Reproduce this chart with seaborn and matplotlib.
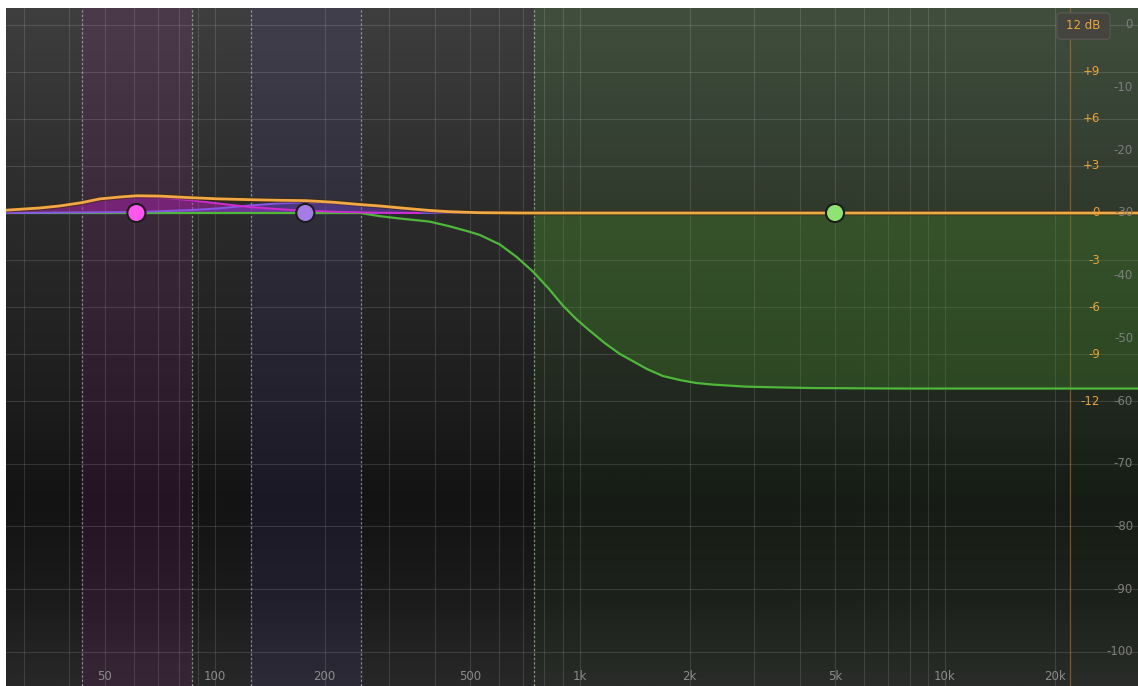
import numpy as np
import pandas as pd
import seaborn as sns
import matplotlib.pyplot as plt
from matplotlib.patches import FancyBboxPatch, Rectangle
from matplotlib.transforms import blended_transform_factory

sns.set_theme(style="dark")
plt.rcParams["font.family"] = ["DejaVu Sans"]


# ----------------------------
# Data
# ----------------------------
freq_ticks = [50, 100, 200, 500, 1000, 2000, 5000, 10000, 20000]
freq_tick_labels = ["50", "100", "200", "500", "1k", "2k", "5k", "10k", "20k"]

eq_ticks = [9, 6, 3, 0, -3, -6, -9, -12]
eq_tick_labels = ["+9", "+6", "+3", "0", "-3", "-6", "-9", "-12"]

analyzer_ticks = [0, -10, -20, -30, -40, -50, -60, -70, -80, -90, -100]

# EQ nodes (all sit on the 0 dB line in the picture)
node_freq = [61, 177, 5000]
node_gain = [0, 0, 0]
node_colors = ["#ff57ee", "#a47ce6", "#8fe274"]

# band regions (dashed edges)
band_lo = [43.2, 126, 748]
band_hi = [86.5, 251, 33800]

# band 1 (pink bell)
pink_freq = [26.8, 33.2, 43.2, 48.4, 54.9, 61.1, 70.7, 85.4, 103, 124.7, 160, 210, 283, 365]
pink_gain = [0.15, 0.3, 0.65, 0.88, 1.0, 1.05, 1.0, 0.82, 0.6, 0.38, 0.2, 0.08, 0.02, 0.0]

# band 2 (purple bell)
purple_freq = [26.8, 61.1, 85.4, 103, 124.7, 151, 177, 210, 250, 321, 388, 532, 685]
purple_gain = [0.0, 0.06, 0.18, 0.3, 0.48, 0.62, 0.67, 0.62, 0.5, 0.3, 0.15, 0.03, 0.0]

# band 3 (green shelf)
green_freq = [26.8, 250, 283, 321, 388, 440, 499, 532, 603, 671, 745, 820, 898, 981,
              1063, 1170, 1288, 1397, 1525, 1688, 1880, 2088, 2318, 2856, 3532, 4362,
              7540, 33800]
green_gain = [0.0, 0.0, -0.2, -0.35, -0.55, -0.85, -1.2, -1.4, -2.0, -2.8, -3.75, -4.8,
              -5.9, -6.8, -7.5, -8.3, -9.0, -9.45, -9.95, -10.4, -10.66, -10.85, -10.95,
              -11.08, -11.13, -11.17, -11.2, -11.2]

# summed response (orange)
total_freq = [26.8, 33.2, 37.6, 43.2, 48.4, 54.9, 61.1, 70.7, 85.4, 103, 124.7, 150, 177,
              210, 250, 283, 321, 388, 440, 532, 700, 33800]
total_gain = [0.18, 0.32, 0.45, 0.66, 0.9, 1.02, 1.1, 1.08, 0.98, 0.9, 0.85, 0.81, 0.79,
              0.69, 0.54, 0.45, 0.33, 0.16, 0.08, 0.02, 0.0, 0.0]

nyquist = 22050


# ----------------------------
# Helpers
# ----------------------------
def analyzer_to_eq(a):
    # analyzer scale: 0 dB sits at +12, -30 at 0 (2.5 analyzer dB per EQ dB)
    return 12 + np.asarray(a) / 2.5


def curve_df(freq, gain):
    return pd.DataFrame({"freq": freq, "gain": gain})


X_MIN, X_MAX = 26.8, 33800
Y_MIN, Y_MAX = -30.18, 13.08

fig = plt.figure(figsize=(11.38, 6.86), dpi=100, facecolor="white")
ax = fig.add_axes([6 / 1138, 0, 1132 / 1138, 678 / 686])
ax.set_xscale("log")

# background gradient (vertical: light top, darkest around -18 dB, lighter bottom)
stops = np.array([0.0, 0.127, 0.274, 0.42, 0.70, 1.0])
shade = np.array([40, 27, 19, 29, 43, 62]) / 255
yy = np.linspace(1, 0, 300)
g = np.interp(yy, stops, shade)[:, None]
bg = np.dstack([np.repeat(g, 2, axis=1)] * 3)
ax.imshow(bg, extent=[0, 1, 0, 1], transform=ax.transAxes, aspect="auto",
          interpolation="bilinear", zorder=0)

# band tints
band_tints = [(0.80, 0.10, 0.80, 0.09), (0.42, 0.32, 0.90, 0.085)]
for lo, hi, tint in zip(band_lo[:2], band_hi[:2], band_tints):
    ax.axvspan(lo, hi, color=tint[:3], alpha=tint[3], lw=0, zorder=1)

green_tint = np.zeros((200, 2, 4))
green_tint[..., 0] = 0.35
green_tint[..., 1] = 0.80
green_tint[..., 2] = 0.25
green_tint[..., 3] = np.linspace(0.12, 0.03, 200)[:, None]
ax.imshow(green_tint, extent=[band_lo[2], band_hi[2], Y_MIN, Y_MAX], aspect="auto",
          interpolation="bilinear", zorder=1)

# grid
grid_freqs = [m * 10 ** e for e in (1, 2, 3) for m in range(1, 10) if m * 10 ** e >= 30] + [10000, 20000]
for f in grid_freqs:
    ax.axvline(f, color="white", alpha=0.12, lw=0.8, zorder=2)
grid_levels = [12, 9, 6, 3, -3, -6, -9, -12] + list(analyzer_to_eq([-70, -80, -90, -100]))
for lvl in grid_levels:
    ax.axhline(lvl, color="white", alpha=0.13, lw=0.8, zorder=2)

# band edges
edge_colors = ["#e6c8e6", "#e6c8e6", "#d0d0e6", "#d0d0e6", "#c8e6c0"]
edges = [band_lo[0], band_hi[0], band_lo[1], band_hi[1], band_lo[2]]
for f, c in zip(edges, edge_colors):
    ax.axvline(f, color=c, alpha=0.55, lw=0.9, ls=(0, (2, 1.5)), zorder=3)
ax.axvline(nyquist, color="#b87830", alpha=0.6, lw=0.9, zorder=3)

# green shelf fill (only inside its band region)
clip = Rectangle((band_lo[2], Y_MIN), band_hi[2] - band_lo[2], Y_MAX - Y_MIN,
                 transform=ax.transData, visible=False)
ax.add_patch(clip)
fill = ax.fill_between(green_freq, green_gain, 0, color="#44882a", alpha=0.32, lw=0, zorder=3)
fill.set_clip_path(clip)

# bell fills
ax.fill_between(pink_freq, pink_gain, 0, color="#c020c0", alpha=0.45, lw=0, zorder=4)
ax.fill_between(purple_freq, purple_gain, 0, color="#7040d0", alpha=0.45, lw=0, zorder=4)

# curves
ax.plot([X_MIN, purple_freq[-1]], [0, 0], color="#7a55e6", lw=1.3, zorder=5)
sns.lineplot(data=curve_df(green_freq, green_gain), x="freq", y="gain", ax=ax,
             color="#4fb83a", lw=1.6, sort=False, estimator=None, zorder=5)
sns.lineplot(data=curve_df(purple_freq, purple_gain), x="freq", y="gain", ax=ax,
             color="#8a55e6", lw=1.4, sort=False, estimator=None, zorder=5)
sns.lineplot(data=curve_df(pink_freq, pink_gain), x="freq", y="gain", ax=ax,
             color="#d02ad0", lw=1.4, sort=False, estimator=None, zorder=5)
sns.lineplot(data=curve_df(total_freq, total_gain), x="freq", y="gain", ax=ax,
             color="#3a2a10", lw=3.6, alpha=0.6, sort=False, estimator=None, zorder=6)
sns.lineplot(data=curve_df(total_freq, total_gain), x="freq", y="gain", ax=ax,
             color="#f2a844", lw=2.0, sort=False, estimator=None, zorder=7)

# nodes
nodes = pd.DataFrame({"freq": node_freq, "gain": node_gain, "band": ["1", "2", "3"]})
sns.scatterplot(data=nodes, x="freq", y="gain", hue="band", palette=node_colors,
                s=170, edgecolor="#1c1c1c", linewidth=1.5, legend=False, ax=ax, zorder=8)

# scale labels
right = blended_transform_factory(ax.transAxes, ax.transData)
for v, lab in zip(eq_ticks, eq_tick_labels):
    ax.text(0.9664, v, lab, transform=right, ha="right", va="center",
            color="#e8a23c", fontsize=8.5, zorder=9)
for a in analyzer_ticks:
    ax.text(0.9956, analyzer_to_eq(a), str(a), transform=right, ha="right", va="center",
            color="#7e7e7e", fontsize=8.5, zorder=9)

bottom = blended_transform_factory(ax.transData, ax.transAxes)
for f, lab in zip(freq_ticks, freq_tick_labels):
    ax.text(f, 0.0147, lab, transform=bottom, ha="center", va="center",
            color="#8a8a8a", fontsize=8.5, zorder=9)

box = FancyBboxPatch((0.9284, 0.954), 0.0469, 0.0386, transform=ax.transAxes,
                     boxstyle="round,pad=0,rounding_size=0.004", facecolor="#45443f",
                     edgecolor="#5a5a55", lw=0.8, zorder=9)
ax.add_patch(box)
ax.text(0.9518, 0.9735, "12 dB", transform=ax.transAxes, ha="center", va="center",
        color="#eba63e", fontsize=8.5, zorder=10)

ax.set_xlim(X_MIN, X_MAX)
ax.set_ylim(Y_MIN, Y_MAX)
ax.set_xlabel("")
ax.set_ylabel("")
ax.set_xticks([])
ax.set_yticks([])
ax.minorticks_off()
for s in ax.spines.values():
    s.set_visible(False)

fig.savefig("out.png", dpi=100, facecolor="white")
